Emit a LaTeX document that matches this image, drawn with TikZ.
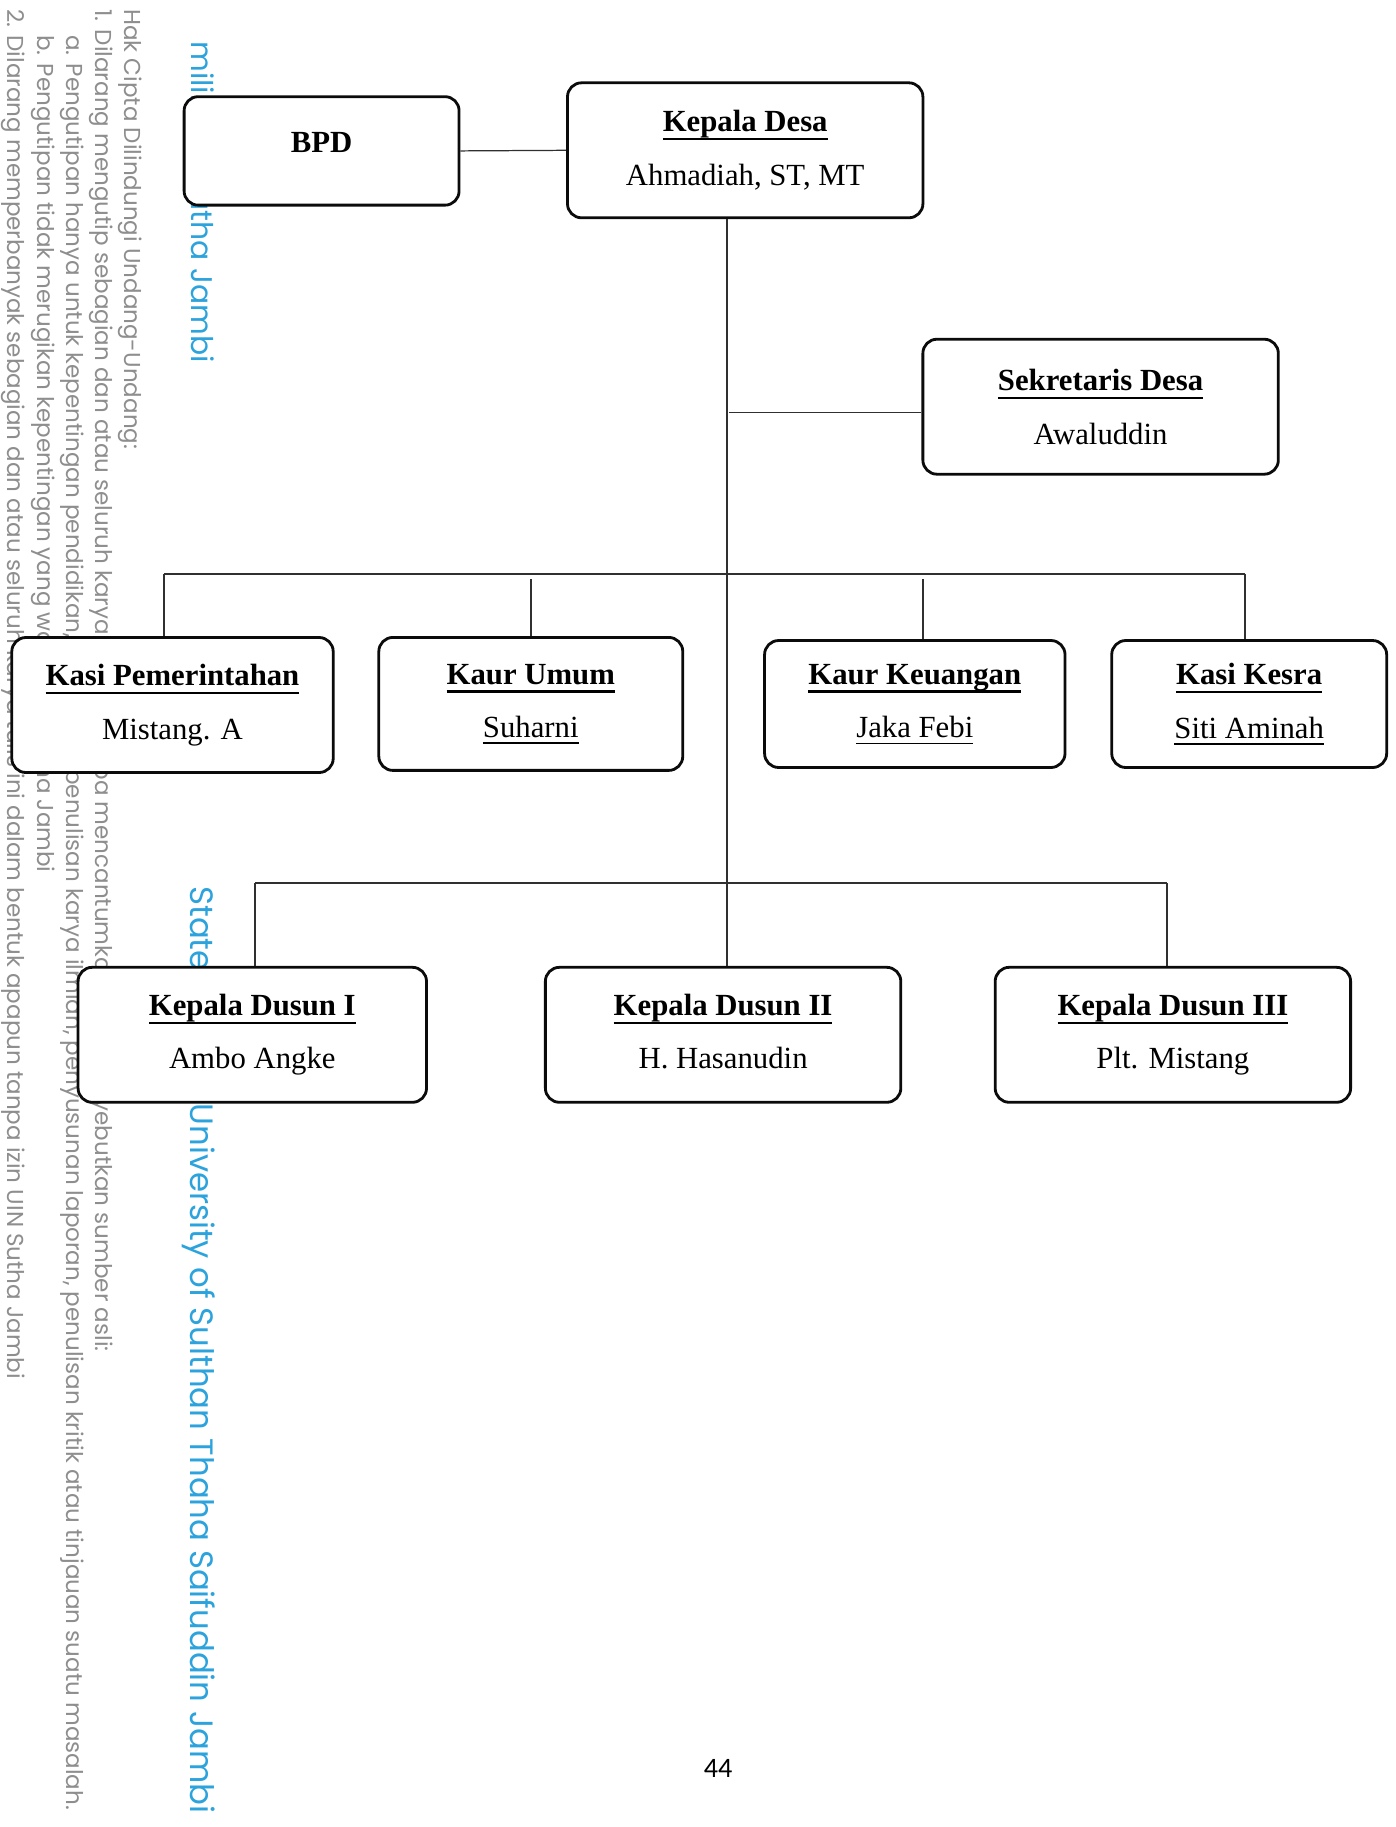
\documentclass[tikz,border=0pt]{standalone}
\usepackage{fontspec}
\setmainfont{Liberation Serif}
\newfontfamily\wmfont{Poppins}
\newfontfamily\pgfont{Carlito}
\usepackage{tikz}
\usetikzlibrary{positioning,calc}
\definecolor{wmgray}{HTML}{8E8E8E}
\definecolor{wmblue}{HTML}{2CA3DC}
\definecolor{ink}{HTML}{0B0B0B}
\newsavebox\ulbox
\newcommand{\ttl}[1]{\sbox\ulbox{\bfseries #1}\leavevmode\rlap{\rule[-0.28em]{\wd\ulbox}{0.08em}}\usebox\ulbox}
\newcommand{\unm}[1]{\sbox\ulbox{#1}\leavevmode\rlap{\rule[-0.2em]{\wd\ulbox}{0.045em}}\usebox\ulbox}
\tikzset{
  orgbox/.style={draw=ink, line width=1.6pt, fill=white, rounded corners=8pt, align=center, inner sep=0pt, font=\fontsize{17.5}{30.5}\selectfont},
  link/.style={line width=0.7pt, draw=ink!85},
  wm/.style={rotate=-90, anchor=base west, inner sep=0pt, font=\wmfont\fontsize{13.1}{14}\selectfont, text=wmgray},
  wmb/.style={wm, font=\wmfont\fontsize{#1}{19}\selectfont, text=wmblue},
}
\begin{document}
\begin{tikzpicture}[x=0.02cm, y=-0.02cm]
  \fill[white] (0,0) rectangle (1396,1827);
  \useasboundingbox (0,0) rectangle (1396,1827);
  % watermark (page scan)
  \node[wm] (wm1) at (124,9) {Hak Cipta Dilindungi Undang-Undang:};
  \node[wm] (wm2) at (95,9) {1. Dilarang mengutip sebagian dan atau seluruh karya tulis ini tanpa mencantumkan dan menyebutkan sumber asli:};
  \node[wm] (wm3) at (66,35) {a. Pengutipan hanya untuk kepentingan pendidikan, penelitian, penulisan karya ilmiah, penyusunan laporan, penulisan kritik atau tinjauan suatu masalah.};
  \node[wm] (wm4) at (37,35) {b. Pengutipan tidak merugikan kepentingan yang wajar UIN Sutha Jambi};
  \node[wm] (wm5) at (8,9) {2. Dilarang memperbanyak sebagian dan atau seluruh karya tulis ini dalam bentuk apapun tanpa izin UIN Sutha Jambi};
  \node[wmb=17] (wm6) at (191,41) {milik UIN Sutha Jambi};
  \node[wmb=18.4] (wm7) at (190,886) {State Islamic University of Sulthan Thaha Saifuddin Jambi};
  % connectors
  \coordinate (trk) at (727,0);
  \coordinate (sekL) at (729,412.5);
  \coordinate (busL) at (164,574);
  \coordinate (busR) at (1245,574);
  \coordinate (busU) at (531,579);
  \coordinate (busK) at (923,579);
  \coordinate (dbL) at (255,883);
  \coordinate (dbR) at (1167,883);
  % top row
  \node[orgbox, minimum width=5.50cm, minimum height=2.17cm, text depth=10pt] (bpd) at (321.6,150.9) {\textbf{BPD}};
  \node[orgbox, minimum width=7.11cm, minimum height=2.70cm] (kdesa) at (745.2,150.3) {\ttl{Kepala Desa}\\ Ahmadiah, ST, MT};
  \node[orgbox, minimum width=7.11cm, minimum height=2.70cm] (sekdes) at (1100.6,406.7) {\ttl{Sekretaris Desa}\\ Awaluddin};
  % kasi / kaur row
  \node[orgbox, minimum width=6.43cm, minimum height=2.70cm] (kpem) at (172.5,705.0) {\ttl{Kasi Pemerintahan}\\ Mistang. A};
  \node[orgbox, minimum width=6.08cm, minimum height=2.66cm] (kumum) at (530.8,703.9) {\ttl{Kaur Umum}\\ \unm{Suharni}};
  \node[orgbox, minimum width=6.01cm, minimum height=2.54cm] (keu) at (914.8,704.0) {\ttl{Kaur Keuangan}\\ \unm{Jaka Febi}};
  \node[orgbox, minimum width=5.50cm, minimum height=2.54cm] (kesra) at (1249.2,704.0) {\ttl{Kasi Kesra}\\ \unm{Siti Aminah}};
  % dusun row
  \node[orgbox, minimum width=6.97cm, minimum height=2.70cm] (kdus1) at (252.3,1034.8) {\ttl{Kepala Dusun I}\\ Ambo Angke};
  \node[orgbox, minimum width=7.11cm, minimum height=2.70cm] (kdus2) at (723.1,1034.8) {\ttl{Kepala Dusun II}\\ H. Hasanudin\vphantom{g}};
  \node[orgbox, minimum width=7.11cm, minimum height=2.70cm] (kdus3) at (1172.9,1034.8) {\ttl{Kepala Dusun III}\\ Plt. Mistang};
  \draw[link] (bpd.east) -- (kdesa.west);
  \draw[link] (trk |- kdesa.south) -- (trk |- kdus2.north);
  \draw[link] (sekL) -- (sekL -| sekdes.west);
  \draw[link] (busL) -- (busR);
  \draw[link] (dbL) -- (dbR);
  \foreach \c/\b in {busL/kpem, busU/kumum, busK/keu, busR/kesra, dbL/kdus1, dbR/kdus3}
    \draw[link] (\c) -- (\c |- \b.north);
  \node[font=\pgfont\fontsize{16}{18}\selectfont] (pnum) at (718,1768) {44};
\end{tikzpicture}
\end{document}
